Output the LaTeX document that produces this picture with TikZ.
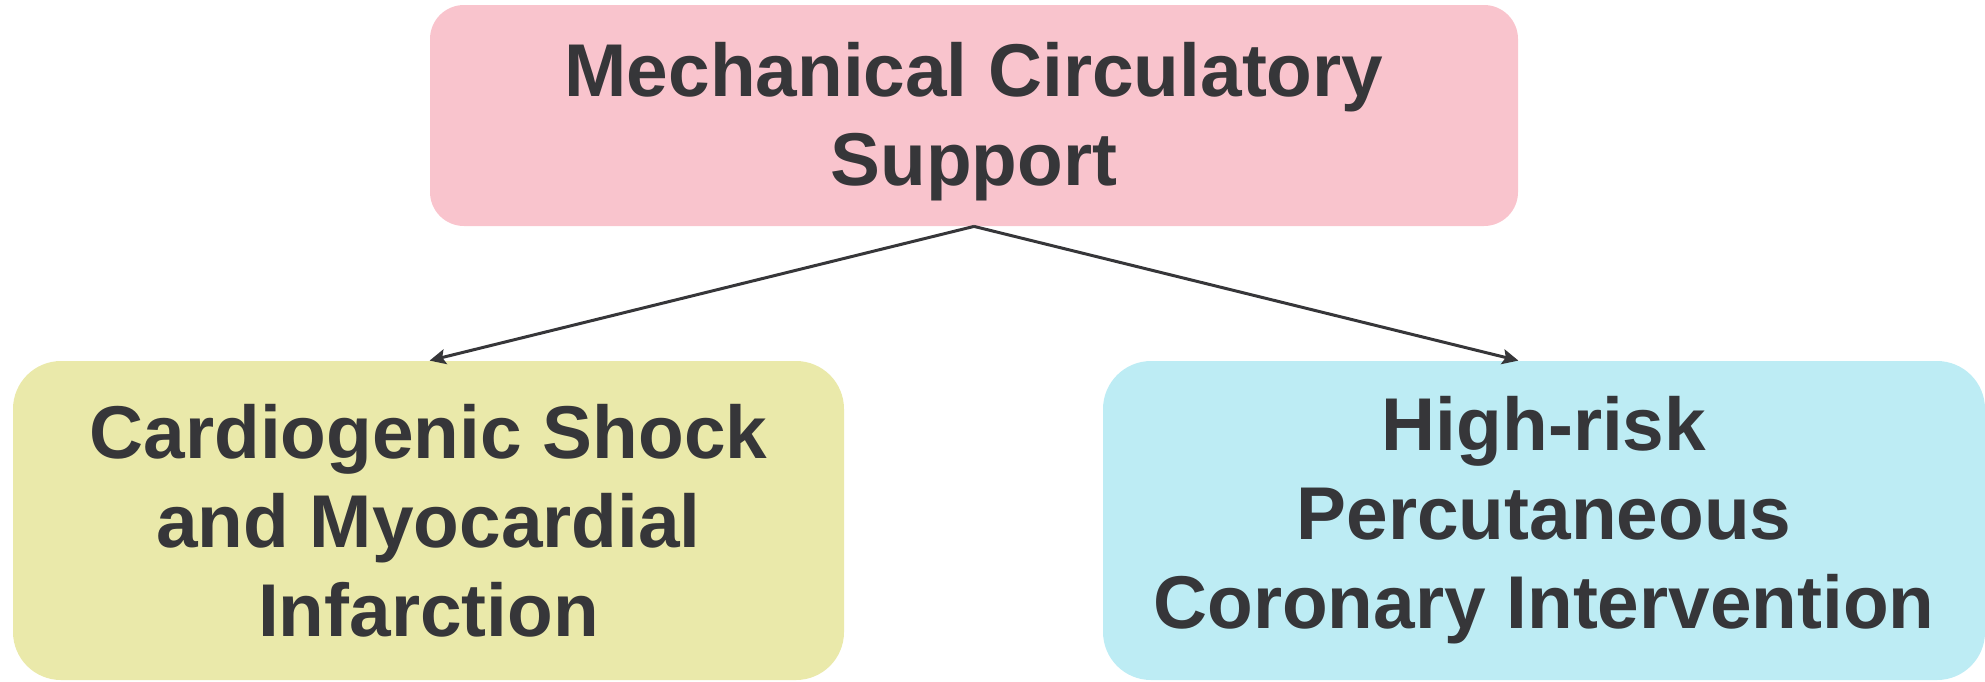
\documentclass[tikz,border=0pt]{standalone}
\usepackage{fontspec}
\setmainfont{Liberation Sans}
\usetikzlibrary{arrows.meta}

\definecolor{mcspink}{RGB}{249,196,205}
\definecolor{mcsyellow}{RGB}{234,233,170}
\definecolor{mcsblue}{RGB}{189,236,244}
\definecolor{mcstext}{RGB}{54,54,57}

\tikzset{
  box/.style={rectangle, inner sep=0pt, align=center, text=mcstext,
    font=\fontsize{37.4}{44.5}\selectfont\bfseries},
  link/.style={draw=mcstext, line width=1.5pt,
    -{Stealth[length=8pt,width=7.5pt,inset=1.5pt]}}
}

\begin{document}
\begin{tikzpicture}[x=0.5pt,y=-0.5pt]
  \useasboundingbox (0,0) rectangle (1985,681);
  \node[box, fill=mcspink, rounded corners=17pt,
    minimum width=544pt, minimum height=110.5pt] (mcs) at (974,115.5) {};
  \node[box] (mcstitle) at (974,122) {Mechanical Circulatory\\Support};
  \node[box, fill=mcsyellow, rounded corners=24pt,
    minimum width=415.5pt, minimum height=159.5pt] (shock) at (428.5,520.5)
    {Cardiogenic Shock\\and Myocardial\\Infarction};
  \node[box, fill=mcsblue, rounded corners=24pt,
    minimum width=441pt, minimum height=159.5pt] (pci) at (1544,520.5)
    {High-risk\\Percutaneous\\Coronary Intervention};
  \coordinate (shockend) at (mcs.south west |- shock.north);
  \coordinate (pciend) at (mcs.south east |- pci.north);
  \draw[link] (mcs.south) -- (shockend);
  \draw[link] (mcs.south) -- (pciend);
\end{tikzpicture}
\end{document}
